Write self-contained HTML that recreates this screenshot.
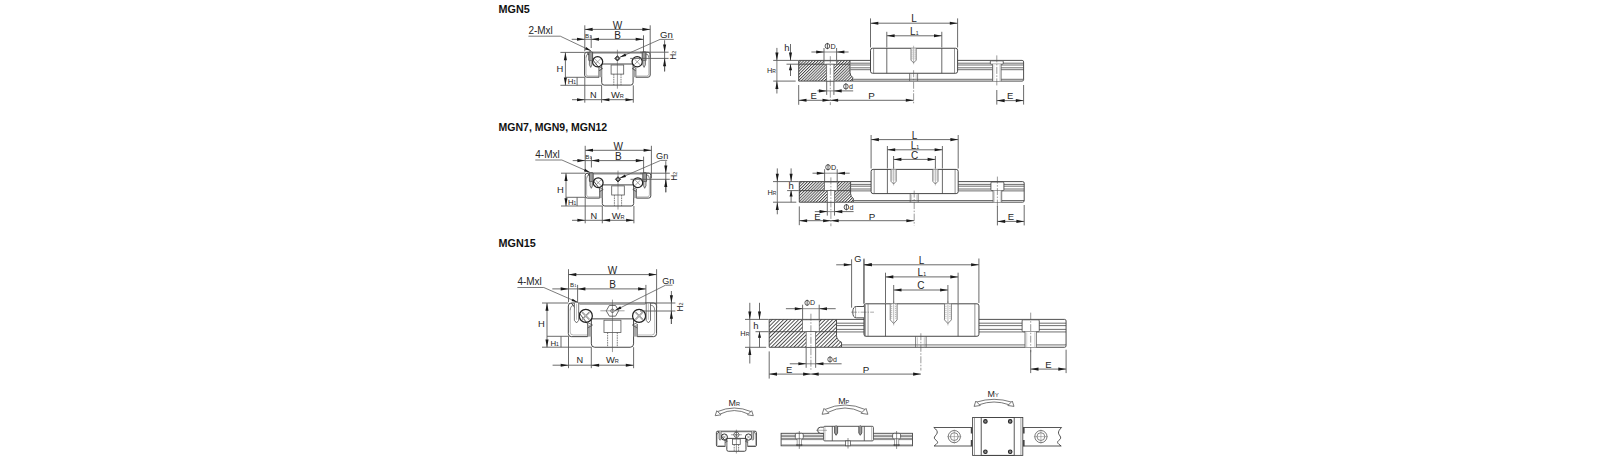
<!DOCTYPE html>
<html><head><meta charset="utf-8"><style>
html,body{margin:0;padding:0;background:#fff;}
body{width:1610px;height:461px;overflow:hidden;}
svg{display:block;font-family:"Liberation Sans",sans-serif;}
</style></head><body>
<svg width="1610" height="461" viewBox="0 0 1610 461">
<rect x="0" y="0" width="1610" height="461" fill="#fff"/>
<text x="498.60" y="12.90" font-size="10.8" text-anchor="start" fill="#111" font-weight="bold" >MGN5</text>
<text x="498.60" y="131.40" font-size="10.8" text-anchor="start" fill="#111" font-weight="bold" textLength="108.6" lengthAdjust="spacingAndGlyphs">MGN7, MGN9, MGN12</text>
<text x="498.60" y="246.60" font-size="10.8" text-anchor="start" fill="#111" font-weight="bold" >MGN15</text>
<path d="M586.8,52.2 L648.0,52.2 Q650.1999999999999,52.2 650.1999999999999,54.400000000000006 L650.1999999999999,75.0 Q650.1999999999999,77.2 648.0,77.2 L635.8,77.2 L635.8,67.8 M599.0,67.8 L599.0,77.2 L586.8,77.2 Q584.6,77.2 584.6,75.0 L584.6,54.400000000000006 Q584.6,52.2 586.8,52.2 Z" fill="none" stroke="#3c3c3c" stroke-width="0.95" />
<line x1="592.90" y1="53.20" x2="641.90" y2="53.20" stroke="#777" stroke-width="0.7"/>
<path d="M648.8,57.7 L648.8,73.80000000000001 Q648.8,76.0 646.6,76.0 L636.3,76.0 M598.5,76.0 L588.1999999999999,76.0 Q586.0,76.0 586.0,73.80000000000001 L586.0,57.7" fill="none" stroke="#888" stroke-width="0.6" />
<path d="M586.0,57.7 Q586.0,53.800000000000004 589.4,53.800000000000004" fill="none" stroke="#555" stroke-width="0.7" />
<path d="M648.8,57.7 Q648.8,53.800000000000004 645.4,53.800000000000004" fill="none" stroke="#555" stroke-width="0.7" />
<path d="M601.6999999999999,64.0 L601.6999999999999,82.6 Q601.6999999999999,85.1 604.1999999999999,85.1 L630.6,85.1 Q633.1,85.1 633.1,82.6 L633.1,64.0 Z" fill="none" stroke="#3c3c3c" stroke-width="0.95" />
<rect x="599.00" y="68.70" width="2.70" height="8.50" fill="#a8a8a8"/>
<polyline points="599.00,66.80 602.60,68.60 599.00,70.80" fill="none" stroke="#444" stroke-width="0.7"/>
<rect x="633.10" y="68.70" width="2.70" height="8.50" fill="#a8a8a8"/>
<polyline points="635.80,66.80 632.20,68.60 635.80,70.80" fill="none" stroke="#444" stroke-width="0.7"/>
<circle cx="597.60" cy="61.80" r="5.10" fill="none" stroke="#222" stroke-width="1.25"/>
<line x1="594.80" y1="59.00" x2="600.40" y2="64.61" stroke="#666" stroke-width="0.6"/>
<line x1="594.80" y1="64.61" x2="600.40" y2="59.00" stroke="#666" stroke-width="0.6"/>
<rect x="588.80" y="51.90" width="3.80" height="9.10" rx="0.80" fill="#9a9a9a" stroke="#333" stroke-width="0.8"/>
<path d="M589.40,61.00 L589.40,64.80 L590.70,67.40 L592.00,64.80 L592.00,61.00" fill="#ccc" stroke="#444" stroke-width="0.7"/>
<circle cx="637.20" cy="61.80" r="5.10" fill="none" stroke="#222" stroke-width="1.25"/>
<line x1="634.39" y1="59.00" x2="640.00" y2="64.61" stroke="#666" stroke-width="0.6"/>
<line x1="634.39" y1="64.61" x2="640.00" y2="59.00" stroke="#666" stroke-width="0.6"/>
<rect x="642.20" y="51.90" width="3.80" height="9.10" rx="0.80" fill="#9a9a9a" stroke="#333" stroke-width="0.8"/>
<path d="M642.80,61.00 L642.80,64.80 L644.10,67.40 L645.40,64.80 L645.40,61.00" fill="#ccc" stroke="#444" stroke-width="0.7"/>
<rect x="611.10" y="65.00" width="12.60" height="9.10" rx="0" fill="none" stroke="#555" stroke-width="0.8"/>
<line x1="613.80" y1="74.10" x2="613.80" y2="85.10" stroke="#555" stroke-width="0.75" stroke-dasharray="1.6,0.8"/>
<line x1="621.00" y1="74.10" x2="621.00" y2="85.10" stroke="#555" stroke-width="0.75" stroke-dasharray="1.6,0.8"/>
<line x1="617.40" y1="49.70" x2="617.40" y2="88.70" stroke="#555" stroke-width="0.6"/>
<polygon points="614.80,58.40 617.40,55.80 620.00,58.40 617.40,61.00" fill="#555" stroke="#222" stroke-width="0.9"/>
<circle cx="617.40" cy="58.40" r="0.80" fill="#ddd" stroke="none" stroke-width="0"/>
<path d="M587.4,173.1 L648.6,173.1 Q650.8,173.1 650.8,175.29999999999998 L650.8,195.9 Q650.8,198.1 648.6,198.1 L636.4,198.1 L636.4,188.7 M599.6,188.7 L599.6,198.1 L587.4,198.1 Q585.2,198.1 585.2,195.9 L585.2,175.29999999999998 Q585.2,173.1 587.4,173.1 Z" fill="none" stroke="#3c3c3c" stroke-width="0.95" />
<line x1="593.50" y1="174.10" x2="642.50" y2="174.10" stroke="#777" stroke-width="0.7"/>
<path d="M649.4,178.6 L649.4,194.7 Q649.4,196.9 647.2,196.9 L636.9,196.9 M599.1,196.9 L588.8,196.9 Q586.6,196.9 586.6,194.7 L586.6,178.6" fill="none" stroke="#888" stroke-width="0.6" />
<path d="M586.6,178.6 Q586.6,174.7 590.0,174.7" fill="none" stroke="#555" stroke-width="0.7" />
<path d="M649.4,178.6 Q649.4,174.7 646.0,174.7" fill="none" stroke="#555" stroke-width="0.7" />
<path d="M602.3,184.9 L602.3,203.5 Q602.3,206.0 604.8,206.0 L631.2,206.0 Q633.7,206.0 633.7,203.5 L633.7,184.9 Z" fill="none" stroke="#3c3c3c" stroke-width="0.95" />
<rect x="599.60" y="189.60" width="2.70" height="8.50" fill="#a8a8a8"/>
<polyline points="599.60,187.70 603.20,189.50 599.60,191.70" fill="none" stroke="#444" stroke-width="0.7"/>
<rect x="633.70" y="189.60" width="2.70" height="8.50" fill="#a8a8a8"/>
<polyline points="636.40,187.70 632.80,189.50 636.40,191.70" fill="none" stroke="#444" stroke-width="0.7"/>
<circle cx="598.20" cy="182.70" r="4.90" fill="none" stroke="#222" stroke-width="1.25"/>
<line x1="595.50" y1="180.00" x2="600.90" y2="185.39" stroke="#666" stroke-width="0.6"/>
<line x1="595.50" y1="185.39" x2="600.90" y2="180.00" stroke="#666" stroke-width="0.6"/>
<rect x="589.40" y="172.80" width="3.80" height="9.10" rx="0.80" fill="#9a9a9a" stroke="#333" stroke-width="0.8"/>
<path d="M590.00,181.90 L590.00,185.70 L591.30,188.30 L592.60,185.70 L592.60,181.90" fill="#ccc" stroke="#444" stroke-width="0.7"/>
<circle cx="637.80" cy="182.70" r="4.90" fill="none" stroke="#222" stroke-width="1.25"/>
<line x1="635.10" y1="180.00" x2="640.50" y2="185.39" stroke="#666" stroke-width="0.6"/>
<line x1="635.10" y1="185.39" x2="640.50" y2="180.00" stroke="#666" stroke-width="0.6"/>
<rect x="642.80" y="172.80" width="3.80" height="9.10" rx="0.80" fill="#9a9a9a" stroke="#333" stroke-width="0.8"/>
<path d="M643.40,181.90 L643.40,185.70 L644.70,188.30 L646.00,185.70 L646.00,181.90" fill="#ccc" stroke="#444" stroke-width="0.7"/>
<rect x="611.70" y="185.90" width="12.60" height="9.10" rx="0" fill="none" stroke="#555" stroke-width="0.8"/>
<line x1="614.40" y1="195.00" x2="614.40" y2="206.00" stroke="#555" stroke-width="0.75" stroke-dasharray="1.6,0.8"/>
<line x1="621.60" y1="195.00" x2="621.60" y2="206.00" stroke="#555" stroke-width="0.75" stroke-dasharray="1.6,0.8"/>
<line x1="618.00" y1="170.60" x2="618.00" y2="209.60" stroke="#555" stroke-width="0.6"/>
<polygon points="615.40,179.30 618.00,176.70 620.60,179.30 618.00,181.90" fill="#555" stroke="#222" stroke-width="0.9"/>
<circle cx="618.00" cy="179.30" r="0.80" fill="#ddd" stroke="none" stroke-width="0"/>
<path d="M571.293,303.0 L653.6070000000001,303.0 Q656.566,303.0 656.566,305.959 L656.566,333.666 Q656.566,336.625 653.6070000000001,336.625 L637.1980000000001,336.625 L637.1980000000001,323.98199999999997 M587.702,323.98199999999997 L587.702,336.625 L571.293,336.625 Q568.3340000000001,336.625 568.3340000000001,333.666 L568.3340000000001,305.959 Q568.3340000000001,303.0 571.293,303.0 Z" fill="none" stroke="#3c3c3c" stroke-width="0.95" />
<line x1="579.50" y1="304.35" x2="645.40" y2="304.35" stroke="#777" stroke-width="0.7"/>
<path d="M654.683,310.3975 L654.683,332.052 Q654.683,335.011 651.724,335.011 L637.8705,335.011 M587.0295000000001,335.011 L573.176,335.011 Q570.2170000000001,335.011 570.2170000000001,332.052 L570.2170000000001,310.3975" fill="none" stroke="#888" stroke-width="0.6" />
<path d="M570.2170000000001,310.3975 Q570.2170000000001,305.152 574.7900000000001,305.152" fill="none" stroke="#555" stroke-width="0.7" />
<path d="M654.683,310.3975 Q654.683,305.152 650.11,305.152" fill="none" stroke="#555" stroke-width="0.7" />
<path d="M591.3335000000001,318.871 L591.3335000000001,343.888 Q591.3335000000001,347.2505 594.696,347.2505 L630.2040000000001,347.2505 Q633.5665,347.2505 633.5665,343.888 L633.5665,318.871 Z" fill="none" stroke="#3c3c3c" stroke-width="0.95" />
<rect x="587.70" y="325.19" width="3.63" height="11.43" fill="#a8a8a8"/>
<polyline points="587.70,322.64 592.54,325.06 587.70,328.02" fill="none" stroke="#444" stroke-width="0.7"/>
<rect x="633.57" y="325.19" width="3.63" height="11.43" fill="#a8a8a8"/>
<polyline points="637.20,322.64 632.36,325.06 637.20,328.02" fill="none" stroke="#444" stroke-width="0.7"/>
<circle cx="585.82" cy="315.91" r="6.52" fill="none" stroke="#222" stroke-width="1.25"/>
<line x1="582.23" y1="312.32" x2="589.41" y2="319.50" stroke="#666" stroke-width="1.3"/>
<line x1="582.23" y1="319.50" x2="589.41" y2="312.32" stroke="#666" stroke-width="1.3"/>
<line x1="582.23" y1="312.32" x2="589.41" y2="319.50" stroke="#fff" stroke-width="0.5"/>
<line x1="582.23" y1="319.50" x2="589.41" y2="312.32" stroke="#fff" stroke-width="0.5"/>
<path d="M574.39,303.00 L574.39,320.35 L576.54,322.91 L578.69,320.35 L578.69,303.00" fill="#fff" stroke="#444" stroke-width="0.75"/>
<line x1="576.54" y1="303.67" x2="576.54" y2="319.81" stroke="#888" stroke-width="0.5"/>
<circle cx="639.08" cy="315.91" r="6.52" fill="none" stroke="#222" stroke-width="1.25"/>
<line x1="635.49" y1="312.32" x2="642.67" y2="319.50" stroke="#666" stroke-width="1.3"/>
<line x1="635.49" y1="319.50" x2="642.67" y2="312.32" stroke="#666" stroke-width="1.3"/>
<line x1="635.49" y1="312.32" x2="642.67" y2="319.50" stroke="#fff" stroke-width="0.5"/>
<line x1="635.49" y1="319.50" x2="642.67" y2="312.32" stroke="#fff" stroke-width="0.5"/>
<path d="M646.21,303.00 L646.21,320.35 L648.36,322.91 L650.51,320.35 L650.51,303.00" fill="#fff" stroke="#444" stroke-width="0.75"/>
<line x1="648.36" y1="303.67" x2="648.36" y2="319.81" stroke="#888" stroke-width="0.5"/>
<rect x="603.98" y="320.22" width="16.95" height="12.24" rx="0" fill="none" stroke="#555" stroke-width="0.8"/>
<line x1="607.61" y1="332.46" x2="607.61" y2="347.25" stroke="#555" stroke-width="0.75" stroke-dasharray="1.6,0.8"/>
<line x1="617.29" y1="332.46" x2="617.29" y2="347.25" stroke="#555" stroke-width="0.75" stroke-dasharray="1.6,0.8"/>
<line x1="612.45" y1="299.64" x2="612.45" y2="352.09" stroke="#555" stroke-width="0.6"/>
<polygon points="618.64,310.80 615.54,316.16 609.36,316.16 606.26,310.80 609.36,305.44 615.54,305.44" fill="none" stroke="#444" stroke-width="0.8"/>
<circle cx="612.45" cy="310.80" r="1.75" fill="none" stroke="#444" stroke-width="0.7"/>
<line x1="600.35" y1="310.80" x2="624.56" y2="310.80" stroke="#666" stroke-width="0.6"/>
<defs><pattern id="hp0" patternUnits="userSpaceOnUse" width="2.05" height="2.05" patternTransform="rotate(45)"><line x1="0.5" y1="0" x2="0.5" y2="2.05" stroke="#2a2a2a" stroke-width="0.8"/></pattern></defs>
<path d="M798.7,60.4 L850.0,60.4 L850.0,72.40599999999999 Q850.0,75.718 852.7,77.374 L852.7,81.1 L798.7,81.1 Z" fill="url(#hp0)" stroke="#3c3c3c" stroke-width="0.9"/>
<line x1="798.70" y1="64.20" x2="850.00" y2="64.20" stroke="#3c3c3c" stroke-width="0.85"/>
<rect x="824.00" y="60.85" width="12.60" height="3.35" fill="#fff" stroke="#555" stroke-width="0.7"/>
<rect x="826.70" y="64.20" width="7.20" height="16.90" fill="#fff" stroke="#555" stroke-width="0.7"/>
<line x1="830.30" y1="56.20" x2="830.30" y2="105.10" stroke="#555" stroke-width="0.6" stroke-dasharray="7,1.5,1.5,1.5"/>
<line x1="850.00" y1="60.40" x2="1022.10" y2="60.40" stroke="#3c3c3c" stroke-width="0.9"/>
<line x1="850.40" y1="63.20" x2="870.50" y2="63.20" stroke="#4a4a4a" stroke-width="0.8"/>
<line x1="957.60" y1="63.20" x2="1023.60" y2="63.20" stroke="#4a4a4a" stroke-width="0.8"/>
<line x1="850.40" y1="65.00" x2="870.50" y2="65.00" stroke="#4a4a4a" stroke-width="0.8"/>
<line x1="957.60" y1="65.00" x2="1023.60" y2="65.00" stroke="#4a4a4a" stroke-width="0.8"/>
<line x1="850.40" y1="67.80" x2="870.50" y2="67.80" stroke="#4a4a4a" stroke-width="0.8"/>
<line x1="957.60" y1="67.80" x2="1023.60" y2="67.80" stroke="#4a4a4a" stroke-width="0.8"/>
<line x1="850.40" y1="69.70" x2="870.50" y2="69.70" stroke="#4a4a4a" stroke-width="0.8"/>
<line x1="957.60" y1="69.70" x2="1023.60" y2="69.70" stroke="#4a4a4a" stroke-width="0.8"/>
<line x1="853.20" y1="79.30" x2="1023.60" y2="79.30" stroke="#4a4a4a" stroke-width="0.8"/>
<line x1="852.70" y1="81.10" x2="1022.10" y2="81.10" stroke="#3c3c3c" stroke-width="0.9"/>
<path d="M1022.1,60.4 Q1023.6,60.4 1023.6,61.9 L1023.6,79.6 Q1023.6,81.1 1022.1,81.1" fill="none" stroke="#3c3c3c" stroke-width="0.9" />
<rect x="990.30" y="60.80" width="13.00" height="3.40" rx="1" fill="#fff" stroke="#444" stroke-width="0.85"/>
<rect x="992.50" y="64.20" width="8.60" height="16.90" fill="#fff" stroke="none"/>
<line x1="992.50" y1="64.20" x2="992.50" y2="81.10" stroke="#555" stroke-width="0.8"/>
<line x1="993.80" y1="64.70" x2="993.80" y2="81.10" stroke="#aaa" stroke-width="0.5"/>
<line x1="1001.10" y1="64.20" x2="1001.10" y2="81.10" stroke="#555" stroke-width="0.8"/>
<line x1="999.80" y1="64.70" x2="999.80" y2="81.10" stroke="#aaa" stroke-width="0.5"/>
<line x1="996.80" y1="55.40" x2="996.80" y2="86.10" stroke="#555" stroke-width="0.6" stroke-dasharray="7,1.5,1.5,1.5"/>
<rect x="870.50" y="48.25" width="87.10" height="25.00" rx="2.0" fill="#fff" stroke="#3c3c3c" stroke-width="0.95"/>
<line x1="873.60" y1="48.25" x2="873.60" y2="73.25" stroke="#666" stroke-width="0.7"/>
<line x1="886.80" y1="48.25" x2="886.80" y2="73.25" stroke="#444" stroke-width="0.8"/>
<line x1="941.80" y1="48.25" x2="941.80" y2="73.25" stroke="#444" stroke-width="0.8"/>
<line x1="954.50" y1="48.25" x2="954.50" y2="73.25" stroke="#666" stroke-width="0.7"/>
<line x1="909.60" y1="73.25" x2="909.60" y2="81.10" stroke="#555" stroke-width="0.75"/>
<line x1="911.00" y1="74.25" x2="911.00" y2="81.10" stroke="#999" stroke-width="0.5"/>
<line x1="917.60" y1="73.25" x2="917.60" y2="81.10" stroke="#555" stroke-width="0.75"/>
<line x1="916.20" y1="74.25" x2="916.20" y2="81.10" stroke="#999" stroke-width="0.5"/>
<line x1="913.60" y1="70.25" x2="913.60" y2="104.30" stroke="#555" stroke-width="0.6" stroke-dasharray="7,1.5,1.5,1.5"/>
<path d="M911.0,48.25 L911.0,60.15 L913.6,62.849999999999994 L916.2,60.15 L916.2,48.25" fill="#fff" stroke="#555" stroke-width="0.75"/>
<line x1="912.10" y1="48.25" x2="912.10" y2="59.25" stroke="#777" stroke-width="0.55" stroke-dasharray="1.2,0.8"/>
<line x1="915.10" y1="48.25" x2="915.10" y2="59.25" stroke="#777" stroke-width="0.55" stroke-dasharray="1.2,0.8"/>
<line x1="913.60" y1="45.75" x2="913.60" y2="64.25" stroke="#777" stroke-width="0.5"/>
<defs><pattern id="hp1" patternUnits="userSpaceOnUse" width="2.05" height="2.05" patternTransform="rotate(45)"><line x1="0.5" y1="0" x2="0.5" y2="2.05" stroke="#2a2a2a" stroke-width="0.8"/></pattern></defs>
<path d="M799.3,181.6 L850.5999999999999,181.6 L850.5999999999999,193.548 Q850.5999999999999,196.844 853.3,198.492 L853.3,202.2 L799.3,202.2 Z" fill="url(#hp1)" stroke="#3c3c3c" stroke-width="0.9"/>
<line x1="799.30" y1="190.60" x2="850.60" y2="190.60" stroke="#3c3c3c" stroke-width="0.85"/>
<rect x="824.60" y="182.05" width="12.60" height="8.55" fill="#fff" stroke="#555" stroke-width="0.7"/>
<rect x="827.30" y="190.60" width="7.20" height="11.60" fill="#fff" stroke="#555" stroke-width="0.7"/>
<line x1="830.90" y1="177.40" x2="830.90" y2="226.20" stroke="#555" stroke-width="0.6" stroke-dasharray="7,1.5,1.5,1.5"/>
<line x1="850.60" y1="181.60" x2="1022.70" y2="181.60" stroke="#3c3c3c" stroke-width="0.9"/>
<line x1="851.00" y1="184.40" x2="871.10" y2="184.40" stroke="#4a4a4a" stroke-width="0.8"/>
<line x1="958.20" y1="184.40" x2="1024.20" y2="184.40" stroke="#4a4a4a" stroke-width="0.8"/>
<line x1="851.00" y1="186.20" x2="871.10" y2="186.20" stroke="#4a4a4a" stroke-width="0.8"/>
<line x1="958.20" y1="186.20" x2="1024.20" y2="186.20" stroke="#4a4a4a" stroke-width="0.8"/>
<line x1="851.00" y1="189.00" x2="871.10" y2="189.00" stroke="#4a4a4a" stroke-width="0.8"/>
<line x1="958.20" y1="189.00" x2="1024.20" y2="189.00" stroke="#4a4a4a" stroke-width="0.8"/>
<line x1="851.00" y1="190.90" x2="871.10" y2="190.90" stroke="#4a4a4a" stroke-width="0.8"/>
<line x1="958.20" y1="190.90" x2="1024.20" y2="190.90" stroke="#4a4a4a" stroke-width="0.8"/>
<line x1="853.80" y1="200.50" x2="1024.20" y2="200.50" stroke="#4a4a4a" stroke-width="0.8"/>
<line x1="853.30" y1="202.20" x2="1022.70" y2="202.20" stroke="#3c3c3c" stroke-width="0.9"/>
<path d="M1022.7,181.6 Q1024.2,181.6 1024.2,183.1 L1024.2,200.7 Q1024.2,202.2 1022.7,202.2" fill="none" stroke="#3c3c3c" stroke-width="0.9" />
<rect x="990.90" y="182.00" width="13.00" height="8.60" rx="1" fill="#fff" stroke="#444" stroke-width="0.85"/>
<rect x="993.10" y="190.60" width="8.60" height="11.60" fill="#fff" stroke="none"/>
<line x1="993.10" y1="190.60" x2="993.10" y2="202.20" stroke="#555" stroke-width="0.8"/>
<line x1="994.40" y1="191.10" x2="994.40" y2="202.20" stroke="#aaa" stroke-width="0.5"/>
<line x1="1001.70" y1="190.60" x2="1001.70" y2="202.20" stroke="#555" stroke-width="0.8"/>
<line x1="1000.40" y1="191.10" x2="1000.40" y2="202.20" stroke="#aaa" stroke-width="0.5"/>
<line x1="997.40" y1="176.60" x2="997.40" y2="207.20" stroke="#555" stroke-width="0.6" stroke-dasharray="7,1.5,1.5,1.5"/>
<rect x="871.10" y="169.40" width="87.10" height="24.20" rx="2.0" fill="#fff" stroke="#3c3c3c" stroke-width="0.95"/>
<line x1="874.20" y1="169.40" x2="874.20" y2="193.60" stroke="#666" stroke-width="0.7"/>
<line x1="887.40" y1="169.40" x2="887.40" y2="193.60" stroke="#444" stroke-width="0.8"/>
<line x1="942.40" y1="169.40" x2="942.40" y2="193.60" stroke="#444" stroke-width="0.8"/>
<line x1="955.10" y1="169.40" x2="955.10" y2="193.60" stroke="#666" stroke-width="0.7"/>
<line x1="910.20" y1="193.60" x2="910.20" y2="202.20" stroke="#555" stroke-width="0.75"/>
<line x1="911.60" y1="194.60" x2="911.60" y2="202.20" stroke="#999" stroke-width="0.5"/>
<line x1="918.20" y1="193.60" x2="918.20" y2="202.20" stroke="#555" stroke-width="0.75"/>
<line x1="916.80" y1="194.60" x2="916.80" y2="202.20" stroke="#999" stroke-width="0.5"/>
<line x1="914.20" y1="190.60" x2="914.20" y2="225.40" stroke="#555" stroke-width="0.6" stroke-dasharray="7,1.5,1.5,1.5"/>
<path d="M891.0,169.4 L891.0,181.29999999999998 L893.5999999999999,184.0 L896.1999999999999,181.29999999999998 L896.1999999999999,169.4" fill="#fff" stroke="#555" stroke-width="0.75"/>
<line x1="892.10" y1="169.40" x2="892.10" y2="180.40" stroke="#777" stroke-width="0.55" stroke-dasharray="1.2,0.8"/>
<line x1="895.10" y1="169.40" x2="895.10" y2="180.40" stroke="#777" stroke-width="0.55" stroke-dasharray="1.2,0.8"/>
<line x1="893.60" y1="166.90" x2="893.60" y2="185.40" stroke="#777" stroke-width="0.5"/>
<path d="M932.8,169.4 L932.8,181.29999999999998 L935.4,184.0 L938.0,181.29999999999998 L938.0,169.4" fill="#fff" stroke="#555" stroke-width="0.75"/>
<line x1="933.90" y1="169.40" x2="933.90" y2="180.40" stroke="#777" stroke-width="0.55" stroke-dasharray="1.2,0.8"/>
<line x1="936.90" y1="169.40" x2="936.90" y2="180.40" stroke="#777" stroke-width="0.55" stroke-dasharray="1.2,0.8"/>
<line x1="935.40" y1="166.90" x2="935.40" y2="185.40" stroke="#777" stroke-width="0.5"/>
<defs><pattern id="hp2" patternUnits="userSpaceOnUse" width="2.67" height="2.67" patternTransform="rotate(45)"><line x1="0.5" y1="0" x2="0.5" y2="2.67" stroke="#2a2a2a" stroke-width="0.8"/></pattern></defs>
<path d="M769.2,319.4 L836.5200000000001,319.4 L836.5200000000001,335.56895 Q836.5200000000001,340.02934999999997 841.5360000000001,342.25955 L841.5360000000001,347.2775 L769.2,347.2775 Z" fill="url(#hp2)" stroke="#3c3c3c" stroke-width="0.9"/>
<line x1="769.20" y1="331.69" x2="836.52" y2="331.69" stroke="#3c3c3c" stroke-width="0.85"/>
<rect x="802.60" y="319.85" width="16.63" height="11.84" fill="#fff" stroke="#555" stroke-width="0.7"/>
<rect x="806.16" y="331.69" width="9.50" height="15.59" fill="#fff" stroke="#555" stroke-width="0.7"/>
<line x1="810.91" y1="313.73" x2="810.91" y2="371.28" stroke="#555" stroke-width="0.6" stroke-dasharray="7,1.5,1.5,1.5"/>
<line x1="836.52" y1="319.40" x2="1064.57" y2="319.40" stroke="#3c3c3c" stroke-width="0.9"/>
<line x1="836.92" y1="323.18" x2="863.98" y2="323.18" stroke="#4a4a4a" stroke-width="0.8"/>
<line x1="978.95" y1="323.18" x2="1066.07" y2="323.18" stroke="#4a4a4a" stroke-width="0.8"/>
<line x1="836.92" y1="325.61" x2="863.98" y2="325.61" stroke="#4a4a4a" stroke-width="0.8"/>
<line x1="978.95" y1="325.61" x2="1066.07" y2="325.61" stroke="#4a4a4a" stroke-width="0.8"/>
<line x1="836.92" y1="329.39" x2="863.98" y2="329.39" stroke="#4a4a4a" stroke-width="0.8"/>
<line x1="978.95" y1="329.39" x2="1066.07" y2="329.39" stroke="#4a4a4a" stroke-width="0.8"/>
<line x1="836.92" y1="331.95" x2="863.98" y2="331.95" stroke="#4a4a4a" stroke-width="0.8"/>
<line x1="978.95" y1="331.95" x2="1066.07" y2="331.95" stroke="#4a4a4a" stroke-width="0.8"/>
<line x1="842.04" y1="344.91" x2="1066.07" y2="344.91" stroke="#4a4a4a" stroke-width="0.8"/>
<line x1="841.54" y1="347.28" x2="1064.57" y2="347.28" stroke="#3c3c3c" stroke-width="0.9"/>
<path d="M1064.568,319.4 Q1066.068,319.4 1066.068,320.9 L1066.068,345.7775 Q1066.068,347.2775 1064.568,347.2775" fill="none" stroke="#3c3c3c" stroke-width="0.9" />
<rect x="1022.11" y="319.80" width="17.16" height="11.88" rx="1" fill="#fff" stroke="#444" stroke-width="0.85"/>
<rect x="1025.02" y="331.69" width="11.35" height="15.59" fill="#fff" stroke="none"/>
<line x1="1025.02" y1="331.69" x2="1025.02" y2="347.28" stroke="#555" stroke-width="0.8"/>
<line x1="1026.73" y1="332.19" x2="1026.73" y2="347.28" stroke="#aaa" stroke-width="0.5"/>
<line x1="1036.37" y1="331.69" x2="1036.37" y2="347.28" stroke="#555" stroke-width="0.8"/>
<line x1="1034.65" y1="332.19" x2="1034.65" y2="347.28" stroke="#aaa" stroke-width="0.5"/>
<line x1="1030.69" y1="312.65" x2="1030.69" y2="352.28" stroke="#555" stroke-width="0.6" stroke-dasharray="7,1.5,1.5,1.5"/>
<rect x="863.98" y="303.81" width="114.97" height="32.47" rx="2.0" fill="#fff" stroke="#3c3c3c" stroke-width="0.95"/>
<line x1="868.07" y1="303.81" x2="868.07" y2="336.27" stroke="#666" stroke-width="0.7"/>
<line x1="885.49" y1="303.81" x2="885.49" y2="336.27" stroke="#444" stroke-width="0.8"/>
<line x1="958.09" y1="303.81" x2="958.09" y2="336.27" stroke="#444" stroke-width="0.8"/>
<line x1="974.86" y1="303.81" x2="974.86" y2="336.27" stroke="#666" stroke-width="0.7"/>
<line x1="915.59" y1="336.27" x2="915.59" y2="347.28" stroke="#555" stroke-width="0.75"/>
<line x1="917.44" y1="337.27" x2="917.44" y2="347.28" stroke="#999" stroke-width="0.5"/>
<line x1="926.15" y1="336.27" x2="926.15" y2="347.28" stroke="#555" stroke-width="0.75"/>
<line x1="924.30" y1="337.27" x2="924.30" y2="347.28" stroke="#999" stroke-width="0.5"/>
<line x1="920.87" y1="333.27" x2="920.87" y2="370.48" stroke="#555" stroke-width="0.6" stroke-dasharray="7,1.5,1.5,1.5"/>
<path d="M890.244,303.8075 L890.244,319.8725 L893.676,323.5175 L897.1080000000001,319.8725 L897.1080000000001,303.8075" fill="#fff" stroke="#555" stroke-width="0.75"/>
<line x1="891.70" y1="303.81" x2="891.70" y2="318.66" stroke="#777" stroke-width="0.55" stroke-dasharray="1.2,0.8"/>
<line x1="895.66" y1="303.81" x2="895.66" y2="318.66" stroke="#777" stroke-width="0.55" stroke-dasharray="1.2,0.8"/>
<line x1="893.68" y1="301.31" x2="893.68" y2="325.41" stroke="#777" stroke-width="0.5"/>
<path d="M944.4960000000001,303.8075 L944.4960000000001,319.8725 L947.9280000000001,323.5175 L951.36,319.8725 L951.36,303.8075" fill="#fff" stroke="#555" stroke-width="0.75"/>
<line x1="945.95" y1="303.81" x2="945.95" y2="318.66" stroke="#777" stroke-width="0.55" stroke-dasharray="1.2,0.8"/>
<line x1="949.91" y1="303.81" x2="949.91" y2="318.66" stroke="#777" stroke-width="0.55" stroke-dasharray="1.2,0.8"/>
<line x1="947.93" y1="301.31" x2="947.93" y2="325.41" stroke="#777" stroke-width="0.5"/>
<path d="M863.976,306.5075 L856.376,306.5075 Q852.776,306.5075 852.776,312.17749999999995 Q852.776,317.84749999999997 856.376,317.84749999999997 L863.976,317.84749999999997" fill="#fff" stroke="#3c3c3c" stroke-width="0.9"/>
<line x1="855.58" y1="306.51" x2="855.58" y2="317.85" stroke="#666" stroke-width="0.6"/>
<line x1="864.88" y1="304.81" x2="864.88" y2="336.27" stroke="#666" stroke-width="1.4"/>
<line x1="850.98" y1="312.18" x2="873.98" y2="312.18" stroke="#555" stroke-width="0.5" stroke-dasharray="6,1.2,1.2,1.2"/>
<line x1="870.50" y1="18.40" x2="870.50" y2="47.50" stroke="#5a5a5a" stroke-width="0.9"/>
<line x1="957.60" y1="18.40" x2="957.60" y2="47.50" stroke="#5a5a5a" stroke-width="0.9"/>
<line x1="870.50" y1="23.20" x2="957.60" y2="23.20" stroke="#5a5a5a" stroke-width="0.9"/>
<polygon points="870.50,23.20 878.30,21.65 878.30,24.75" fill="#1a1a1a"/>
<polygon points="957.60,23.20 949.80,24.75 949.80,21.65" fill="#1a1a1a"/>
<text x="914.05" y="22.30" font-size="10" text-anchor="middle" fill="#262626" font-weight="normal" >L</text>
<line x1="886.80" y1="31.80" x2="886.80" y2="47.50" stroke="#5a5a5a" stroke-width="0.9"/>
<line x1="941.80" y1="31.80" x2="941.80" y2="47.50" stroke="#5a5a5a" stroke-width="0.9"/>
<line x1="886.80" y1="35.80" x2="941.80" y2="35.80" stroke="#5a5a5a" stroke-width="0.9"/>
<polygon points="886.80,35.80 894.60,34.25 894.60,37.35" fill="#1a1a1a"/>
<polygon points="941.80,35.80 934.00,37.35 934.00,34.25" fill="#1a1a1a"/>
<text x="914.30" y="34.90" font-size="10" text-anchor="middle" fill="#262626">L<tspan font-size="5.2">1</tspan></text>
<line x1="773.20" y1="60.40" x2="798.20" y2="60.40" stroke="#5a5a5a" stroke-width="0.9"/>
<line x1="786.50" y1="64.20" x2="798.20" y2="64.20" stroke="#5a5a5a" stroke-width="0.9"/>
<line x1="773.20" y1="81.10" x2="795.70" y2="81.10" stroke="#5a5a5a" stroke-width="0.9"/>
<line x1="776.90" y1="47.90" x2="776.90" y2="60.40" stroke="#5a5a5a" stroke-width="0.9"/>
<polygon points="776.90,60.40 775.35,52.60 778.45,52.60" fill="#1a1a1a"/>
<line x1="776.90" y1="81.10" x2="776.90" y2="93.50" stroke="#5a5a5a" stroke-width="0.9"/>
<polygon points="776.90,81.10 778.45,88.90 775.35,88.90" fill="#1a1a1a"/>
<line x1="776.90" y1="60.40" x2="776.90" y2="81.10" stroke="#5a5a5a" stroke-width="0.8"/>
<line x1="790.50" y1="44.00" x2="790.50" y2="60.40" stroke="#5a5a5a" stroke-width="0.9"/>
<polygon points="790.50,60.40 788.95,52.60 792.05,52.60" fill="#1a1a1a"/>
<line x1="790.50" y1="64.20" x2="790.50" y2="76.00" stroke="#5a5a5a" stroke-width="0.9"/>
<polygon points="790.50,64.20 792.05,70.20 788.95,70.20" fill="#1a1a1a"/>
<text x="771.50" y="73.20" font-size="7.4" text-anchor="middle" fill="#262626">H<tspan font-size="5">R</tspan></text>
<text x="787.00" y="50.50" font-size="9.5" text-anchor="middle" fill="#262626" font-weight="normal" >h</text>
<line x1="824.00" y1="48.00" x2="824.00" y2="60.40" stroke="#5a5a5a" stroke-width="0.9"/>
<line x1="836.60" y1="48.00" x2="836.60" y2="60.40" stroke="#5a5a5a" stroke-width="0.9"/>
<line x1="811.40" y1="52.00" x2="824.00" y2="52.00" stroke="#5a5a5a" stroke-width="0.9"/>
<polygon points="824.00,52.00 816.20,53.55 816.20,50.45" fill="#1a1a1a"/>
<line x1="836.60" y1="52.00" x2="848.60" y2="52.00" stroke="#5a5a5a" stroke-width="0.9"/>
<polygon points="836.60,52.00 844.40,50.45 844.40,53.55" fill="#1a1a1a"/>
<line x1="824.00" y1="52.00" x2="836.60" y2="52.00" stroke="#5a5a5a" stroke-width="0.7"/>
<ellipse cx="827.40" cy="46.05" rx="2.30" ry="2.55" fill="none" stroke="#262626" stroke-width="0.75"/>
<line x1="827.40" y1="42.90" x2="827.40" y2="49.10" stroke="#262626" stroke-width="0.75"/>
<text x="830.40" y="48.60" font-size="7.2" fill="#262626">D</text>
<line x1="826.70" y1="81.10" x2="826.70" y2="94.90" stroke="#5a5a5a" stroke-width="0.9"/>
<line x1="833.90" y1="81.10" x2="833.90" y2="94.90" stroke="#5a5a5a" stroke-width="0.9"/>
<line x1="817.40" y1="90.90" x2="826.70" y2="90.90" stroke="#5a5a5a" stroke-width="0.9"/>
<polygon points="826.70,90.90 818.90,92.45 818.90,89.35" fill="#1a1a1a"/>
<line x1="833.90" y1="90.90" x2="853.20" y2="90.90" stroke="#5a5a5a" stroke-width="0.9"/>
<polygon points="833.90,90.90 841.70,89.35 841.70,92.45" fill="#1a1a1a"/>
<line x1="826.70" y1="90.90" x2="833.90" y2="90.90" stroke="#5a5a5a" stroke-width="0.7"/>
<ellipse cx="845.90" cy="86.45" rx="2.30" ry="2.55" fill="none" stroke="#262626" stroke-width="0.75"/>
<line x1="845.90" y1="83.30" x2="845.90" y2="89.50" stroke="#262626" stroke-width="0.75"/>
<text x="848.90" y="89.00" font-size="7.2" fill="#262626">d</text>
<line x1="798.70" y1="85.00" x2="798.70" y2="104.80" stroke="#5a5a5a" stroke-width="0.9"/>
<line x1="798.70" y1="100.30" x2="913.60" y2="100.30" stroke="#5a5a5a" stroke-width="0.9"/>
<polygon points="798.70,100.30 806.50,98.75 806.50,101.85" fill="#1a1a1a"/>
<polygon points="830.30,100.30 822.50,101.85 822.50,98.75" fill="#1a1a1a"/>
<polygon points="830.30,100.30 838.10,98.75 838.10,101.85" fill="#1a1a1a"/>
<polygon points="913.60,100.30 905.80,101.85 905.80,98.75" fill="#1a1a1a"/>
<text x="813.60" y="99.30" font-size="9.5" text-anchor="middle" fill="#262626" font-weight="normal" >E</text>
<text x="871.40" y="99.30" font-size="9.8" text-anchor="middle" fill="#262626" font-weight="normal" >P</text>
<line x1="996.80" y1="90.00" x2="996.80" y2="104.60" stroke="#5a5a5a" stroke-width="0.9"/>
<line x1="1023.60" y1="85.00" x2="1023.60" y2="104.60" stroke="#5a5a5a" stroke-width="0.9"/>
<line x1="996.80" y1="100.60" x2="1023.60" y2="100.60" stroke="#5a5a5a" stroke-width="0.9"/>
<polygon points="996.80,100.60 1004.60,99.05 1004.60,102.15" fill="#1a1a1a"/>
<polygon points="1023.60,100.60 1015.80,102.15 1015.80,99.05" fill="#1a1a1a"/>
<text x="1010.20" y="99.40" font-size="9.5" text-anchor="middle" fill="#262626" font-weight="normal" >E</text>
<line x1="871.10" y1="135.00" x2="871.10" y2="168.50" stroke="#5a5a5a" stroke-width="0.9"/>
<line x1="958.20" y1="135.00" x2="958.20" y2="168.50" stroke="#5a5a5a" stroke-width="0.9"/>
<line x1="871.10" y1="139.60" x2="958.20" y2="139.60" stroke="#5a5a5a" stroke-width="0.9"/>
<polygon points="871.10,139.60 878.90,138.05 878.90,141.15" fill="#1a1a1a"/>
<polygon points="958.20,139.60 950.40,141.15 950.40,138.05" fill="#1a1a1a"/>
<text x="914.65" y="138.70" font-size="10" text-anchor="middle" fill="#262626" font-weight="normal" >L</text>
<line x1="887.40" y1="146.00" x2="887.40" y2="168.50" stroke="#5a5a5a" stroke-width="0.9"/>
<line x1="942.40" y1="146.00" x2="942.40" y2="168.50" stroke="#5a5a5a" stroke-width="0.9"/>
<line x1="887.40" y1="149.80" x2="942.40" y2="149.80" stroke="#5a5a5a" stroke-width="0.9"/>
<polygon points="887.40,149.80 895.20,148.25 895.20,151.35" fill="#1a1a1a"/>
<polygon points="942.40,149.80 934.60,151.35 934.60,148.25" fill="#1a1a1a"/>
<text x="914.90" y="148.90" font-size="10" text-anchor="middle" fill="#262626">L<tspan font-size="5.2">1</tspan></text>
<line x1="893.60" y1="156.00" x2="893.60" y2="168.50" stroke="#5a5a5a" stroke-width="0.9"/>
<line x1="935.40" y1="156.00" x2="935.40" y2="168.50" stroke="#5a5a5a" stroke-width="0.9"/>
<line x1="893.60" y1="159.40" x2="935.40" y2="159.40" stroke="#5a5a5a" stroke-width="0.9"/>
<polygon points="893.60,159.40 901.40,157.85 901.40,160.95" fill="#1a1a1a"/>
<polygon points="935.40,159.40 927.60,160.95 927.60,157.85" fill="#1a1a1a"/>
<text x="914.50" y="158.50" font-size="10" text-anchor="middle" fill="#262626" font-weight="normal" >C</text>
<line x1="773.00" y1="181.60" x2="798.80" y2="181.60" stroke="#5a5a5a" stroke-width="0.9"/>
<line x1="787.10" y1="190.60" x2="798.80" y2="190.60" stroke="#5a5a5a" stroke-width="0.9"/>
<line x1="773.00" y1="202.20" x2="796.30" y2="202.20" stroke="#5a5a5a" stroke-width="0.9"/>
<line x1="777.30" y1="168.40" x2="777.30" y2="181.60" stroke="#5a5a5a" stroke-width="0.9"/>
<polygon points="777.30,181.60 775.75,173.80 778.85,173.80" fill="#1a1a1a"/>
<line x1="777.30" y1="202.20" x2="777.30" y2="214.30" stroke="#5a5a5a" stroke-width="0.9"/>
<polygon points="777.30,202.20 778.85,210.00 775.75,210.00" fill="#1a1a1a"/>
<line x1="777.30" y1="181.60" x2="777.30" y2="202.20" stroke="#5a5a5a" stroke-width="0.8"/>
<line x1="791.10" y1="168.40" x2="791.10" y2="181.60" stroke="#5a5a5a" stroke-width="0.9"/>
<polygon points="791.10,181.60 789.55,173.80 792.65,173.80" fill="#1a1a1a"/>
<line x1="791.10" y1="190.60" x2="791.10" y2="202.30" stroke="#5a5a5a" stroke-width="0.9"/>
<polygon points="791.10,190.60 792.65,196.60 789.55,196.60" fill="#1a1a1a"/>
<text x="772.00" y="194.60" font-size="7.4" text-anchor="middle" fill="#262626">H<tspan font-size="5">R</tspan></text>
<text x="791.10" y="189.00" font-size="9.5" text-anchor="middle" fill="#262626" font-weight="normal" >h</text>
<line x1="824.60" y1="169.20" x2="824.60" y2="181.60" stroke="#5a5a5a" stroke-width="0.9"/>
<line x1="837.20" y1="169.20" x2="837.20" y2="181.60" stroke="#5a5a5a" stroke-width="0.9"/>
<line x1="812.50" y1="173.20" x2="824.60" y2="173.20" stroke="#5a5a5a" stroke-width="0.9"/>
<polygon points="824.60,173.20 816.80,174.75 816.80,171.65" fill="#1a1a1a"/>
<line x1="837.20" y1="173.20" x2="849.70" y2="173.20" stroke="#5a5a5a" stroke-width="0.9"/>
<polygon points="837.20,173.20 845.00,171.65 845.00,174.75" fill="#1a1a1a"/>
<line x1="824.60" y1="173.20" x2="837.20" y2="173.20" stroke="#5a5a5a" stroke-width="0.7"/>
<ellipse cx="828.00" cy="167.25" rx="2.30" ry="2.55" fill="none" stroke="#262626" stroke-width="0.75"/>
<line x1="828.00" y1="164.10" x2="828.00" y2="170.30" stroke="#262626" stroke-width="0.75"/>
<text x="831.00" y="169.80" font-size="7.2" fill="#262626">D</text>
<line x1="827.30" y1="202.20" x2="827.30" y2="215.60" stroke="#5a5a5a" stroke-width="0.9"/>
<line x1="834.50" y1="202.20" x2="834.50" y2="215.60" stroke="#5a5a5a" stroke-width="0.9"/>
<line x1="814.80" y1="211.60" x2="827.30" y2="211.60" stroke="#5a5a5a" stroke-width="0.9"/>
<polygon points="827.30,211.60 819.50,213.15 819.50,210.05" fill="#1a1a1a"/>
<line x1="834.50" y1="211.60" x2="853.60" y2="211.60" stroke="#5a5a5a" stroke-width="0.9"/>
<polygon points="834.50,211.60 842.30,210.05 842.30,213.15" fill="#1a1a1a"/>
<line x1="827.30" y1="211.60" x2="834.50" y2="211.60" stroke="#5a5a5a" stroke-width="0.7"/>
<ellipse cx="846.40" cy="207.15" rx="2.30" ry="2.55" fill="none" stroke="#262626" stroke-width="0.75"/>
<line x1="846.40" y1="204.00" x2="846.40" y2="210.20" stroke="#262626" stroke-width="0.75"/>
<text x="849.40" y="209.70" font-size="7.2" fill="#262626">d</text>
<line x1="799.30" y1="206.40" x2="799.30" y2="225.20" stroke="#5a5a5a" stroke-width="0.9"/>
<line x1="799.30" y1="220.70" x2="914.20" y2="220.70" stroke="#5a5a5a" stroke-width="0.9"/>
<polygon points="799.30,220.70 807.10,219.15 807.10,222.25" fill="#1a1a1a"/>
<polygon points="830.90,220.70 823.10,222.25 823.10,219.15" fill="#1a1a1a"/>
<polygon points="830.90,220.70 838.70,219.15 838.70,222.25" fill="#1a1a1a"/>
<polygon points="914.20,220.70 906.40,222.25 906.40,219.15" fill="#1a1a1a"/>
<text x="817.50" y="219.70" font-size="9.5" text-anchor="middle" fill="#262626" font-weight="normal" >E</text>
<text x="872.00" y="219.70" font-size="9.8" text-anchor="middle" fill="#262626" font-weight="normal" >P</text>
<line x1="997.40" y1="206.00" x2="997.40" y2="225.40" stroke="#5a5a5a" stroke-width="0.9"/>
<line x1="1024.20" y1="205.00" x2="1024.20" y2="225.40" stroke="#5a5a5a" stroke-width="0.9"/>
<line x1="997.40" y1="221.40" x2="1024.20" y2="221.40" stroke="#5a5a5a" stroke-width="0.9"/>
<polygon points="997.40,221.40 1005.20,219.85 1005.20,222.95" fill="#1a1a1a"/>
<polygon points="1024.20,221.40 1016.40,222.95 1016.40,219.85" fill="#1a1a1a"/>
<text x="1010.80" y="220.20" font-size="9.5" text-anchor="middle" fill="#262626" font-weight="normal" >E</text>
<line x1="864.00" y1="258.50" x2="864.00" y2="303.00" stroke="#5a5a5a" stroke-width="0.9"/>
<line x1="978.90" y1="258.50" x2="978.90" y2="303.00" stroke="#5a5a5a" stroke-width="0.9"/>
<line x1="864.00" y1="264.80" x2="978.90" y2="264.80" stroke="#5a5a5a" stroke-width="0.9"/>
<polygon points="864.00,264.80 871.80,263.25 871.80,266.35" fill="#1a1a1a"/>
<polygon points="978.90,264.80 971.10,266.35 971.10,263.25" fill="#1a1a1a"/>
<text x="921.45" y="263.90" font-size="10" text-anchor="middle" fill="#262626" font-weight="normal" >L</text>
<line x1="885.50" y1="272.70" x2="885.50" y2="303.00" stroke="#5a5a5a" stroke-width="0.9"/>
<line x1="958.10" y1="272.70" x2="958.10" y2="303.00" stroke="#5a5a5a" stroke-width="0.9"/>
<line x1="885.50" y1="276.90" x2="958.10" y2="276.90" stroke="#5a5a5a" stroke-width="0.9"/>
<polygon points="885.50,276.90 893.30,275.35 893.30,278.45" fill="#1a1a1a"/>
<polygon points="958.10,276.90 950.30,278.45 950.30,275.35" fill="#1a1a1a"/>
<text x="921.80" y="276.00" font-size="10" text-anchor="middle" fill="#262626">L<tspan font-size="5.2">1</tspan></text>
<line x1="893.70" y1="285.00" x2="893.70" y2="303.00" stroke="#5a5a5a" stroke-width="0.9"/>
<line x1="947.90" y1="285.00" x2="947.90" y2="303.00" stroke="#5a5a5a" stroke-width="0.9"/>
<line x1="893.70" y1="290.00" x2="947.90" y2="290.00" stroke="#5a5a5a" stroke-width="0.9"/>
<polygon points="893.70,290.00 901.50,288.45 901.50,291.55" fill="#1a1a1a"/>
<polygon points="947.90,290.00 940.10,291.55 940.10,288.45" fill="#1a1a1a"/>
<text x="920.80" y="289.10" font-size="10" text-anchor="middle" fill="#262626" font-weight="normal" >C</text>
<line x1="745.00" y1="319.40" x2="768.70" y2="319.40" stroke="#5a5a5a" stroke-width="0.9"/>
<line x1="755.50" y1="331.70" x2="768.70" y2="331.70" stroke="#5a5a5a" stroke-width="0.9"/>
<line x1="745.00" y1="347.30" x2="766.20" y2="347.30" stroke="#5a5a5a" stroke-width="0.9"/>
<line x1="749.80" y1="302.80" x2="749.80" y2="319.40" stroke="#5a5a5a" stroke-width="0.9"/>
<polygon points="749.80,319.40 748.25,311.60 751.35,311.60" fill="#1a1a1a"/>
<line x1="749.80" y1="347.30" x2="749.80" y2="363.50" stroke="#5a5a5a" stroke-width="0.9"/>
<polygon points="749.80,347.30 751.35,355.10 748.25,355.10" fill="#1a1a1a"/>
<line x1="749.80" y1="319.40" x2="749.80" y2="347.30" stroke="#5a5a5a" stroke-width="0.8"/>
<line x1="759.50" y1="302.80" x2="759.50" y2="319.40" stroke="#5a5a5a" stroke-width="0.9"/>
<polygon points="759.50,319.40 757.95,311.60 761.05,311.60" fill="#1a1a1a"/>
<line x1="759.50" y1="331.70" x2="759.50" y2="347.30" stroke="#5a5a5a" stroke-width="0.9"/>
<polygon points="759.50,331.70 761.05,337.70 757.95,337.70" fill="#1a1a1a"/>
<text x="744.80" y="335.80" font-size="7.4" text-anchor="middle" fill="#262626">H<tspan font-size="5">R</tspan></text>
<text x="756.00" y="328.60" font-size="9.5" text-anchor="middle" fill="#262626" font-weight="normal" >h</text>
<line x1="802.60" y1="304.70" x2="802.60" y2="319.40" stroke="#5a5a5a" stroke-width="0.9"/>
<line x1="819.20" y1="304.70" x2="819.20" y2="319.40" stroke="#5a5a5a" stroke-width="0.9"/>
<line x1="785.90" y1="308.70" x2="802.60" y2="308.70" stroke="#5a5a5a" stroke-width="0.9"/>
<polygon points="802.60,308.70 794.80,310.25 794.80,307.15" fill="#1a1a1a"/>
<line x1="819.20" y1="308.70" x2="835.70" y2="308.70" stroke="#5a5a5a" stroke-width="0.9"/>
<polygon points="819.20,308.70 827.00,307.15 827.00,310.25" fill="#1a1a1a"/>
<line x1="802.60" y1="308.70" x2="819.20" y2="308.70" stroke="#5a5a5a" stroke-width="0.7"/>
<ellipse cx="807.14" cy="302.82" rx="2.24" ry="2.48" fill="none" stroke="#262626" stroke-width="0.73"/>
<line x1="807.14" y1="299.76" x2="807.14" y2="305.79" stroke="#262626" stroke-width="0.7291666666666666"/>
<text x="810.07" y="305.30" font-size="7.0" fill="#262626">D</text>
<line x1="806.15" y1="347.30" x2="806.15" y2="367.80" stroke="#5a5a5a" stroke-width="0.9"/>
<line x1="815.65" y1="347.30" x2="815.65" y2="367.80" stroke="#5a5a5a" stroke-width="0.9"/>
<line x1="789.80" y1="363.80" x2="806.15" y2="363.80" stroke="#5a5a5a" stroke-width="0.9"/>
<polygon points="806.15,363.80 798.35,365.35 798.35,362.25" fill="#1a1a1a"/>
<line x1="815.65" y1="363.80" x2="841.60" y2="363.80" stroke="#5a5a5a" stroke-width="0.9"/>
<polygon points="815.65,363.80 823.45,362.25 823.45,365.35" fill="#1a1a1a"/>
<line x1="806.15" y1="363.80" x2="815.65" y2="363.80" stroke="#5a5a5a" stroke-width="0.7"/>
<ellipse cx="830.04" cy="359.42" rx="2.24" ry="2.48" fill="none" stroke="#262626" stroke-width="0.73"/>
<line x1="830.04" y1="356.36" x2="830.04" y2="362.39" stroke="#262626" stroke-width="0.7291666666666666"/>
<text x="832.97" y="361.90" font-size="7.0" fill="#262626">d</text>
<line x1="769.20" y1="351.40" x2="769.20" y2="378.60" stroke="#5a5a5a" stroke-width="0.9"/>
<line x1="769.20" y1="374.10" x2="920.90" y2="374.10" stroke="#5a5a5a" stroke-width="0.9"/>
<polygon points="769.20,374.10 777.00,372.55 777.00,375.65" fill="#1a1a1a"/>
<polygon points="810.90,374.10 803.10,375.65 803.10,372.55" fill="#1a1a1a"/>
<polygon points="810.90,374.10 818.70,372.55 818.70,375.65" fill="#1a1a1a"/>
<polygon points="920.90,374.10 913.10,375.65 913.10,372.55" fill="#1a1a1a"/>
<text x="789.20" y="373.10" font-size="9.5" text-anchor="middle" fill="#262626" font-weight="normal" >E</text>
<text x="866.00" y="373.10" font-size="9.8" text-anchor="middle" fill="#262626" font-weight="normal" >P</text>
<line x1="1030.70" y1="350.00" x2="1030.70" y2="373.10" stroke="#5a5a5a" stroke-width="0.9"/>
<line x1="1066.10" y1="349.70" x2="1066.10" y2="373.10" stroke="#5a5a5a" stroke-width="0.9"/>
<line x1="1030.70" y1="369.10" x2="1066.10" y2="369.10" stroke="#5a5a5a" stroke-width="0.9"/>
<polygon points="1030.70,369.10 1038.50,367.55 1038.50,370.65" fill="#1a1a1a"/>
<polygon points="1066.10,369.10 1058.30,370.65 1058.30,367.55" fill="#1a1a1a"/>
<text x="1048.40" y="367.90" font-size="9.5" text-anchor="middle" fill="#262626" font-weight="normal" >E</text>
<line x1="851.60" y1="259.30" x2="851.60" y2="307.70" stroke="#5a5a5a" stroke-width="0.9"/>
<line x1="863.90" y1="259.30" x2="863.90" y2="304.00" stroke="#5a5a5a" stroke-width="0.9"/>
<line x1="836.20" y1="264.80" x2="851.60" y2="264.80" stroke="#5a5a5a" stroke-width="0.9"/>
<polygon points="851.60,264.80 843.80,266.35 843.80,263.25" fill="#1a1a1a"/>
<line x1="863.90" y1="264.80" x2="870.00" y2="264.80" stroke="#5a5a5a" stroke-width="0.9"/>
<polygon points="863.90,264.80 871.70,263.25 871.70,266.35" fill="#1a1a1a"/>
<text x="857.80" y="261.50" font-size="9.2" text-anchor="middle" fill="#262626" font-weight="normal" >G</text>
<line x1="584.80" y1="25.30" x2="584.80" y2="51.40" stroke="#5a5a5a" stroke-width="0.9"/>
<line x1="650.20" y1="25.30" x2="650.20" y2="57.40" stroke="#5a5a5a" stroke-width="0.9"/>
<line x1="584.80" y1="29.40" x2="650.20" y2="29.40" stroke="#5a5a5a" stroke-width="0.9"/>
<polygon points="584.80,29.40 592.60,27.85 592.60,30.95" fill="#1a1a1a"/>
<polygon points="650.20,29.40 642.40,30.95 642.40,27.85" fill="#1a1a1a"/>
<text x="617.50" y="28.70" font-size="10" text-anchor="middle" fill="#262626" font-weight="normal" >W</text>
<line x1="591.20" y1="35.30" x2="591.20" y2="48.00" stroke="#5a5a5a" stroke-width="0.9"/>
<line x1="643.50" y1="35.30" x2="643.50" y2="52.40" stroke="#5a5a5a" stroke-width="0.9"/>
<line x1="571.70" y1="39.30" x2="643.50" y2="39.30" stroke="#5a5a5a" stroke-width="0.9"/>
<polygon points="584.80,39.30 577.00,40.85 577.00,37.75" fill="#1a1a1a"/>
<polygon points="591.20,39.30 599.00,37.75 599.00,40.85" fill="#1a1a1a"/>
<polygon points="643.50,39.30 635.70,40.85 635.70,37.75" fill="#1a1a1a"/>
<text x="617.50" y="38.70" font-size="10" text-anchor="middle" fill="#262626" font-weight="normal" >B</text>
<text x="588.30" y="37.80" font-size="6.2" text-anchor="middle" fill="#262626">B<tspan font-size="4.2">1</tspan></text>
<text x="528.40" y="33.80" font-size="10" text-anchor="start" fill="#262626" font-weight="normal" >2-Mxl</text>
<line x1="528.40" y1="36.20" x2="560.30" y2="36.20" stroke="#5a5a5a" stroke-width="0.8"/>
<line x1="560.30" y1="36.20" x2="591.00" y2="50.80" stroke="#5a5a5a" stroke-width="0.8"/>
<polygon points="591.00,50.80 585.02,49.40 586.14,47.05" fill="#1a1a1a"/>
<text x="660.00" y="38.20" font-size="9.6" text-anchor="start" fill="#262626" font-weight="normal" >Gn</text>
<line x1="660.00" y1="39.40" x2="673.70" y2="39.40" stroke="#5a5a5a" stroke-width="0.8"/>
<line x1="660.00" y1="39.40" x2="619.80" y2="57.30" stroke="#5a5a5a" stroke-width="0.8"/>
<polygon points="619.80,57.30 625.17,53.38 626.31,55.93" fill="#1a1a1a"/>
<line x1="640.00" y1="52.20" x2="668.60" y2="52.20" stroke="#5a5a5a" stroke-width="0.9"/>
<line x1="630.20" y1="58.40" x2="668.60" y2="58.40" stroke="#5a5a5a" stroke-width="0.9"/>
<line x1="664.60" y1="40.20" x2="664.60" y2="71.40" stroke="#5a5a5a" stroke-width="0.9"/>
<polygon points="664.60,52.20 663.05,44.40 666.15,44.40" fill="#1a1a1a"/>
<line x1="664.60" y1="58.40" x2="664.60" y2="71.40" stroke="#5a5a5a" stroke-width="0.9"/>
<polygon points="664.60,58.40 666.15,66.20 663.05,66.20" fill="#1a1a1a"/>
<text x="0" y="0" font-size="8.4" fill="#262626" transform="translate(676.00,55.30) rotate(-90)" text-anchor="middle">H<tspan font-size="5.4">2</tspan></text>
<line x1="560.40" y1="52.40" x2="584.80" y2="52.40" stroke="#5a5a5a" stroke-width="0.9"/>
<line x1="560.40" y1="85.30" x2="601.60" y2="85.30" stroke="#5a5a5a" stroke-width="0.9"/>
<line x1="565.40" y1="52.40" x2="565.40" y2="85.30" stroke="#5a5a5a" stroke-width="0.9"/>
<polygon points="565.40,52.40 566.95,60.20 563.85,60.20" fill="#1a1a1a"/>
<polygon points="565.40,85.30 563.85,77.50 566.95,77.50" fill="#1a1a1a"/>
<text x="563.20" y="72.25" font-size="9.4" text-anchor="end" fill="#262626" font-weight="normal" >H</text>
<line x1="565.40" y1="77.30" x2="584.80" y2="77.30" stroke="#5a5a5a" stroke-width="0.9"/>
<line x1="577.10" y1="77.30" x2="577.10" y2="85.30" stroke="#5a5a5a" stroke-width="0.9"/>
<text x="571.85" y="84.00" font-size="7.8" text-anchor="middle" fill="#262626">H<tspan font-size="5">1</tspan></text>
<line x1="584.80" y1="77.30" x2="584.80" y2="102.70" stroke="#5a5a5a" stroke-width="0.9"/>
<line x1="601.60" y1="85.30" x2="601.60" y2="102.70" stroke="#5a5a5a" stroke-width="0.9"/>
<line x1="633.30" y1="85.30" x2="633.30" y2="102.70" stroke="#5a5a5a" stroke-width="0.9"/>
<line x1="572.00" y1="99.70" x2="633.30" y2="99.70" stroke="#5a5a5a" stroke-width="0.9"/>
<polygon points="584.80,99.70 577.00,101.25 577.00,98.15" fill="#1a1a1a"/>
<polygon points="601.60,99.70 609.40,98.15 609.40,101.25" fill="#1a1a1a"/>
<polygon points="633.30,99.70 625.50,101.25 625.50,98.15" fill="#1a1a1a"/>
<text x="593.20" y="97.90" font-size="9.2" text-anchor="middle" fill="#262626" font-weight="normal" >N</text>
<text x="617.45" y="97.90" font-size="9.4" text-anchor="middle" fill="#262626">W<tspan font-size="5.6">R</tspan></text>
<line x1="585.20" y1="145.80" x2="585.20" y2="172.20" stroke="#5a5a5a" stroke-width="0.9"/>
<line x1="651.40" y1="145.80" x2="651.40" y2="178.20" stroke="#5a5a5a" stroke-width="0.9"/>
<line x1="585.20" y1="150.30" x2="651.40" y2="150.30" stroke="#5a5a5a" stroke-width="0.9"/>
<polygon points="585.20,150.30 593.00,148.75 593.00,151.85" fill="#1a1a1a"/>
<polygon points="651.40,150.30 643.60,151.85 643.60,148.75" fill="#1a1a1a"/>
<text x="618.30" y="149.60" font-size="10" text-anchor="middle" fill="#262626" font-weight="normal" >W</text>
<line x1="591.40" y1="156.60" x2="591.40" y2="167.50" stroke="#5a5a5a" stroke-width="0.9"/>
<line x1="643.60" y1="156.60" x2="643.60" y2="173.20" stroke="#5a5a5a" stroke-width="0.9"/>
<line x1="572.70" y1="160.60" x2="643.60" y2="160.60" stroke="#5a5a5a" stroke-width="0.9"/>
<polygon points="585.20,160.60 577.40,162.15 577.40,159.05" fill="#1a1a1a"/>
<polygon points="591.40,160.60 599.20,159.05 599.20,162.15" fill="#1a1a1a"/>
<polygon points="643.60,160.60 635.80,162.15 635.80,159.05" fill="#1a1a1a"/>
<text x="618.30" y="160.00" font-size="10" text-anchor="middle" fill="#262626" font-weight="normal" >B</text>
<text x="588.60" y="159.10" font-size="6.2" text-anchor="middle" fill="#262626">B<tspan font-size="4.2">1</tspan></text>
<text x="535.30" y="157.60" font-size="10" text-anchor="start" fill="#262626" font-weight="normal" >4-Mxl</text>
<line x1="535.30" y1="160.00" x2="561.90" y2="160.00" stroke="#5a5a5a" stroke-width="0.8"/>
<line x1="561.90" y1="160.00" x2="590.00" y2="172.40" stroke="#5a5a5a" stroke-width="0.8"/>
<polygon points="590.00,172.40 583.99,171.17 585.04,168.79" fill="#1a1a1a"/>
<text x="656.10" y="159.20" font-size="9.2" text-anchor="start" fill="#262626" font-weight="normal" >Gn</text>
<line x1="660.70" y1="160.40" x2="667.20" y2="160.40" stroke="#5a5a5a" stroke-width="0.8"/>
<line x1="660.70" y1="160.40" x2="619.50" y2="178.30" stroke="#5a5a5a" stroke-width="0.8"/>
<polygon points="619.50,178.30 624.90,174.43 626.02,176.99" fill="#1a1a1a"/>
<line x1="640.00" y1="173.20" x2="669.80" y2="173.20" stroke="#5a5a5a" stroke-width="0.9"/>
<line x1="630.50" y1="179.30" x2="669.80" y2="179.30" stroke="#5a5a5a" stroke-width="0.9"/>
<line x1="665.80" y1="161.20" x2="665.80" y2="192.30" stroke="#5a5a5a" stroke-width="0.9"/>
<polygon points="665.80,173.20 664.25,165.40 667.35,165.40" fill="#1a1a1a"/>
<line x1="665.80" y1="179.30" x2="665.80" y2="192.30" stroke="#5a5a5a" stroke-width="0.9"/>
<polygon points="665.80,179.30 667.35,187.10 664.25,187.10" fill="#1a1a1a"/>
<text x="0" y="0" font-size="8.4" fill="#262626" transform="translate(677.20,176.25) rotate(-90)" text-anchor="middle">H<tspan font-size="5.4">2</tspan></text>
<line x1="561.00" y1="173.20" x2="585.20" y2="173.20" stroke="#5a5a5a" stroke-width="0.9"/>
<line x1="561.00" y1="206.00" x2="602.30" y2="206.00" stroke="#5a5a5a" stroke-width="0.9"/>
<line x1="566.00" y1="173.20" x2="566.00" y2="206.00" stroke="#5a5a5a" stroke-width="0.9"/>
<polygon points="566.00,173.20 567.55,181.00 564.45,181.00" fill="#1a1a1a"/>
<polygon points="566.00,206.00 564.45,198.20 567.55,198.20" fill="#1a1a1a"/>
<text x="563.80" y="193.00" font-size="9.4" text-anchor="end" fill="#262626" font-weight="normal" >H</text>
<line x1="566.00" y1="197.30" x2="585.20" y2="197.30" stroke="#5a5a5a" stroke-width="0.9"/>
<line x1="577.10" y1="197.30" x2="577.10" y2="206.00" stroke="#5a5a5a" stroke-width="0.9"/>
<text x="572.15" y="204.70" font-size="7.8" text-anchor="middle" fill="#262626">H<tspan font-size="5">1</tspan></text>
<line x1="585.20" y1="197.30" x2="585.20" y2="223.30" stroke="#5a5a5a" stroke-width="0.9"/>
<line x1="602.30" y1="206.00" x2="602.30" y2="223.30" stroke="#5a5a5a" stroke-width="0.9"/>
<line x1="633.90" y1="206.00" x2="633.90" y2="223.30" stroke="#5a5a5a" stroke-width="0.9"/>
<line x1="572.00" y1="220.30" x2="633.90" y2="220.30" stroke="#5a5a5a" stroke-width="0.9"/>
<polygon points="585.20,220.30 577.40,221.85 577.40,218.75" fill="#1a1a1a"/>
<polygon points="602.30,220.30 610.10,218.75 610.10,221.85" fill="#1a1a1a"/>
<polygon points="633.90,220.30 626.10,221.85 626.10,218.75" fill="#1a1a1a"/>
<text x="593.75" y="218.50" font-size="9.2" text-anchor="middle" fill="#262626" font-weight="normal" >N</text>
<text x="618.10" y="218.50" font-size="9.4" text-anchor="middle" fill="#262626">W<tspan font-size="5.6">R</tspan></text>
<line x1="568.50" y1="269.20" x2="568.50" y2="302.00" stroke="#5a5a5a" stroke-width="0.9"/>
<line x1="656.60" y1="269.20" x2="656.60" y2="308.00" stroke="#5a5a5a" stroke-width="0.9"/>
<line x1="568.50" y1="274.60" x2="656.60" y2="274.60" stroke="#5a5a5a" stroke-width="0.9"/>
<polygon points="568.50,274.60 576.30,273.05 576.30,276.15" fill="#1a1a1a"/>
<polygon points="656.60,274.60 648.80,276.15 648.80,273.05" fill="#1a1a1a"/>
<text x="612.55" y="273.90" font-size="10" text-anchor="middle" fill="#262626" font-weight="normal" >W</text>
<line x1="577.60" y1="284.90" x2="577.60" y2="302.00" stroke="#5a5a5a" stroke-width="0.9"/>
<line x1="645.90" y1="284.90" x2="645.90" y2="303.00" stroke="#5a5a5a" stroke-width="0.9"/>
<line x1="552.30" y1="288.90" x2="645.90" y2="288.90" stroke="#5a5a5a" stroke-width="0.9"/>
<polygon points="568.50,288.90 560.70,290.45 560.70,287.35" fill="#1a1a1a"/>
<polygon points="577.60,288.90 585.40,287.35 585.40,290.45" fill="#1a1a1a"/>
<polygon points="645.90,288.90 638.10,290.45 638.10,287.35" fill="#1a1a1a"/>
<text x="612.55" y="288.30" font-size="10" text-anchor="middle" fill="#262626" font-weight="normal" >B</text>
<text x="573.35" y="287.40" font-size="6.2" text-anchor="middle" fill="#262626">B<tspan font-size="4.2">1</tspan></text>
<text x="517.40" y="285.10" font-size="10" text-anchor="start" fill="#262626" font-weight="normal" >4-Mxl</text>
<line x1="517.40" y1="287.50" x2="543.80" y2="287.50" stroke="#5a5a5a" stroke-width="0.8"/>
<line x1="543.80" y1="287.50" x2="577.60" y2="302.30" stroke="#5a5a5a" stroke-width="0.8"/>
<polygon points="577.60,302.30 571.58,301.08 572.63,298.70" fill="#1a1a1a"/>
<text x="662.20" y="284.00" font-size="9.0" text-anchor="start" fill="#262626" font-weight="normal" >Gn</text>
<line x1="665.50" y1="285.20" x2="672.50" y2="285.20" stroke="#5a5a5a" stroke-width="0.8"/>
<line x1="665.50" y1="285.20" x2="615.00" y2="310.50" stroke="#5a5a5a" stroke-width="0.8"/>
<polygon points="615.00,310.50 620.18,306.34 621.44,308.84" fill="#1a1a1a"/>
<line x1="645.00" y1="303.00" x2="675.40" y2="303.00" stroke="#5a5a5a" stroke-width="0.9"/>
<line x1="640.00" y1="311.00" x2="675.40" y2="311.00" stroke="#5a5a5a" stroke-width="0.9"/>
<line x1="671.40" y1="291.00" x2="671.40" y2="324.00" stroke="#5a5a5a" stroke-width="0.9"/>
<polygon points="671.40,303.00 669.85,295.20 672.95,295.20" fill="#1a1a1a"/>
<line x1="671.40" y1="311.00" x2="671.40" y2="324.00" stroke="#5a5a5a" stroke-width="0.9"/>
<polygon points="671.40,311.00 672.95,318.80 669.85,318.80" fill="#1a1a1a"/>
<text x="0" y="0" font-size="8.4" fill="#262626" transform="translate(682.80,307.00) rotate(-90)" text-anchor="middle">H<tspan font-size="5.4">2</tspan></text>
<line x1="542.00" y1="303.00" x2="568.50" y2="303.00" stroke="#5a5a5a" stroke-width="0.9"/>
<line x1="542.00" y1="347.20" x2="591.30" y2="347.20" stroke="#5a5a5a" stroke-width="0.9"/>
<line x1="547.00" y1="303.00" x2="547.00" y2="347.20" stroke="#5a5a5a" stroke-width="0.9"/>
<polygon points="547.00,303.00 548.55,310.80 545.45,310.80" fill="#1a1a1a"/>
<polygon points="547.00,347.20 545.45,339.40 548.55,339.40" fill="#1a1a1a"/>
<text x="544.80" y="327.10" font-size="9.4" text-anchor="end" fill="#262626" font-weight="normal" >H</text>
<line x1="547.00" y1="336.30" x2="568.50" y2="336.30" stroke="#5a5a5a" stroke-width="0.9"/>
<line x1="561.00" y1="336.30" x2="561.00" y2="347.20" stroke="#5a5a5a" stroke-width="0.9"/>
<text x="554.60" y="345.90" font-size="7.8" text-anchor="middle" fill="#262626">H<tspan font-size="5">1</tspan></text>
<line x1="568.50" y1="336.30" x2="568.50" y2="368.20" stroke="#5a5a5a" stroke-width="0.9"/>
<line x1="591.30" y1="347.20" x2="591.30" y2="368.20" stroke="#5a5a5a" stroke-width="0.9"/>
<line x1="633.60" y1="347.20" x2="633.60" y2="368.20" stroke="#5a5a5a" stroke-width="0.9"/>
<line x1="552.60" y1="365.20" x2="633.60" y2="365.20" stroke="#5a5a5a" stroke-width="0.9"/>
<polygon points="568.50,365.20 560.70,366.75 560.70,363.65" fill="#1a1a1a"/>
<polygon points="591.30,365.20 599.10,363.65 599.10,366.75" fill="#1a1a1a"/>
<polygon points="633.60,365.20 625.80,366.75 625.80,363.65" fill="#1a1a1a"/>
<text x="579.90" y="363.40" font-size="9.2" text-anchor="middle" fill="#262626" font-weight="normal" >N</text>
<text x="612.45" y="363.40" font-size="9.4" text-anchor="middle" fill="#262626">W<tspan font-size="5.6">R</tspan></text>
<text x="728.60" y="405.80" font-size="8.9" fill="#262626">M<tspan font-size="5.6">R</tspan></text>
<path d="M717.24,411.70 Q734.25,404.30 751.26,411.70" fill="none" stroke="#555" stroke-width="0.8" />
<path d="M720.05,414.08 Q734.25,407.02 748.45,414.08" fill="none" stroke="#555" stroke-width="0.8" />
<polygon points="715.20,415.70 716.82,410.69 720.98,414.85" fill="#fff" stroke="#555" stroke-width="0.8"/>
<polygon points="753.30,415.70 751.68,410.69 747.52,414.85" fill="#fff" stroke="#555" stroke-width="0.8"/>
<path d="M717.7339999999999,431.2 L755.066,431.2 Q756.408,431.2 756.408,432.542 L756.408,445.108 Q756.408,446.45 755.066,446.45 L747.624,446.45 L747.624,440.716 M725.1759999999999,440.716 L725.1759999999999,446.45 L717.7339999999999,446.45 Q716.3919999999999,446.45 716.3919999999999,445.108 L716.3919999999999,432.542 Q716.3919999999999,431.2 717.7339999999999,431.2 Z" fill="none" stroke="#3c3c3c" stroke-width="0.95" />
<line x1="721.45" y1="431.81" x2="751.35" y2="431.81" stroke="#777" stroke-width="0.7"/>
<path d="M755.554,434.555 L755.554,444.376 Q755.554,445.71799999999996 754.212,445.71799999999996 L747.929,445.71799999999996 M724.871,445.71799999999996 L718.588,445.71799999999996 Q717.246,445.71799999999996 717.246,444.376 L717.246,434.555" fill="none" stroke="#888" stroke-width="0.6" />
<path d="M717.246,434.555 Q717.246,432.176 719.3199999999999,432.176" fill="none" stroke="#555" stroke-width="0.7" />
<path d="M755.554,434.555 Q755.554,432.176 753.48,432.176" fill="none" stroke="#555" stroke-width="0.7" />
<path d="M726.823,438.39799999999997 L726.823,449.74399999999997 Q726.823,451.269 728.348,451.269 L744.452,451.269 Q745.977,451.269 745.977,449.74399999999997 L745.977,438.39799999999997 Z" fill="none" stroke="#3c3c3c" stroke-width="0.95" />
<rect x="725.18" y="441.26" width="1.65" height="5.18" fill="#a8a8a8"/>
<polyline points="725.18,440.11 727.37,441.20 725.18,442.55" fill="none" stroke="#444" stroke-width="0.7"/>
<rect x="745.98" y="441.26" width="1.65" height="5.18" fill="#a8a8a8"/>
<polyline points="747.62,440.11 745.43,441.20 747.62,442.55" fill="none" stroke="#444" stroke-width="0.7"/>
<circle cx="724.32" cy="437.06" r="3.11" fill="none" stroke="#222" stroke-width="0.9"/>
<line x1="722.61" y1="435.34" x2="726.03" y2="438.77" stroke="#666" stroke-width="0.6"/>
<line x1="722.61" y1="438.77" x2="726.03" y2="435.34" stroke="#666" stroke-width="0.6"/>
<path d="M719.14,431.20 L719.14,439.07 L720.11,440.23 L721.09,439.07 L721.09,431.20" fill="#fff" stroke="#444" stroke-width="0.75"/>
<line x1="720.11" y1="431.50" x2="720.11" y2="438.82" stroke="#888" stroke-width="0.5"/>
<circle cx="748.48" cy="437.06" r="3.11" fill="none" stroke="#222" stroke-width="0.9"/>
<line x1="746.77" y1="435.34" x2="750.19" y2="438.77" stroke="#666" stroke-width="0.6"/>
<line x1="746.77" y1="438.77" x2="750.19" y2="435.34" stroke="#666" stroke-width="0.6"/>
<path d="M751.71,431.20 L751.71,439.07 L752.69,440.23 L753.66,439.07 L753.66,431.20" fill="#fff" stroke="#444" stroke-width="0.75"/>
<line x1="752.69" y1="431.50" x2="752.69" y2="438.82" stroke="#888" stroke-width="0.5"/>
<rect x="732.56" y="439.01" width="7.69" height="5.55" rx="0" fill="none" stroke="#555" stroke-width="0.8"/>
<line x1="734.20" y1="444.56" x2="734.20" y2="451.27" stroke="#555" stroke-width="0.75" stroke-dasharray="1.6,0.8"/>
<line x1="738.60" y1="444.56" x2="738.60" y2="451.27" stroke="#555" stroke-width="0.75" stroke-dasharray="1.6,0.8"/>
<line x1="736.40" y1="429.68" x2="736.40" y2="453.46" stroke="#555" stroke-width="0.6"/>
<polygon points="739.21,434.74 737.80,437.17 735.00,437.17 733.59,434.74 735.00,432.31 737.80,432.31" fill="none" stroke="#444" stroke-width="0.8"/>
<circle cx="736.40" cy="434.74" r="0.79" fill="none" stroke="#444" stroke-width="0.7"/>
<line x1="730.91" y1="434.74" x2="741.89" y2="434.74" stroke="#666" stroke-width="0.6"/>
<text x="838.20" y="403.60" font-size="8.9" fill="#262626">M<tspan font-size="5.6">P</tspan></text>
<path d="M824.50,409.60 Q845.00,400.40 865.50,409.60" fill="none" stroke="#555" stroke-width="0.8" />
<path d="M827.80,412.40 Q845.00,403.60 862.20,412.40" fill="none" stroke="#555" stroke-width="0.8" />
<polygon points="822.10,414.30 824.00,408.40 828.90,413.30" fill="#fff" stroke="#555" stroke-width="0.8"/>
<polygon points="867.90,414.30 866.00,408.40 861.10,413.30" fill="#fff" stroke="#555" stroke-width="0.8"/>
<rect x="781.10" y="433.30" width="131.40" height="12.50" rx="0" fill="none" stroke="#444" stroke-width="0.9"/>
<line x1="781.10" y1="435.30" x2="823.60" y2="435.30" stroke="#555" stroke-width="0.7"/>
<line x1="873.40" y1="435.30" x2="912.50" y2="435.30" stroke="#555" stroke-width="0.7"/>
<line x1="781.10" y1="436.60" x2="823.60" y2="436.60" stroke="#555" stroke-width="0.7"/>
<line x1="873.40" y1="436.60" x2="912.50" y2="436.60" stroke="#555" stroke-width="0.7"/>
<line x1="781.10" y1="438.40" x2="823.60" y2="438.40" stroke="#555" stroke-width="0.7"/>
<line x1="873.40" y1="438.40" x2="912.50" y2="438.40" stroke="#555" stroke-width="0.7"/>
<line x1="781.10" y1="439.60" x2="823.60" y2="439.60" stroke="#555" stroke-width="0.7"/>
<line x1="873.40" y1="439.60" x2="912.50" y2="439.60" stroke="#555" stroke-width="0.7"/>
<line x1="781.10" y1="444.70" x2="912.50" y2="444.70" stroke="#777" stroke-width="0.6"/>
<rect x="795.30" y="433.30" width="8" height="5.7" rx="1.5" fill="#fff" stroke="#444" stroke-width="0.8"/>
<rect x="797.10" y="439.00" width="4.4" height="6.80" fill="#fff" stroke="#666" stroke-width="0.6"/>
<line x1="799.30" y1="431.00" x2="799.30" y2="448.90" stroke="#444" stroke-width="0.6"/>
<line x1="796.30" y1="445.00" x2="802.30" y2="445.00" stroke="#333" stroke-width="1.2"/>
<rect x="892.60" y="433.30" width="8" height="5.7" rx="1.5" fill="#fff" stroke="#444" stroke-width="0.8"/>
<rect x="894.40" y="439.00" width="4.4" height="6.80" fill="#fff" stroke="#666" stroke-width="0.6"/>
<line x1="896.60" y1="431.00" x2="896.60" y2="448.90" stroke="#444" stroke-width="0.6"/>
<line x1="893.60" y1="445.00" x2="899.60" y2="445.00" stroke="#333" stroke-width="1.2"/>
<rect x="823.6" y="426.3" width="49.8" height="14.6" rx="1.2" fill="#fff" stroke="#444" stroke-width="0.9"/>
<line x1="832.30" y1="426.30" x2="832.30" y2="440.90" stroke="#444" stroke-width="0.8"/>
<line x1="864.30" y1="426.30" x2="864.30" y2="440.90" stroke="#444" stroke-width="0.8"/>
<line x1="825.00" y1="426.30" x2="825.00" y2="440.90" stroke="#888" stroke-width="0.5"/>
<line x1="871.50" y1="426.30" x2="871.50" y2="440.90" stroke="#888" stroke-width="0.5"/>
<path d="M823.6,427.2 L820.6,427.2 Q817.6,427.2 817.6,430.2 Q817.6,433.3 820.6,433.3 L823.6,433.3" fill="#fff" stroke="#333" stroke-width="0.9"/>
<line x1="816.00" y1="430.30" x2="827.00" y2="430.30" stroke="#666" stroke-width="0.5"/>
<path d="M834.6,426.3 L834.6,433 L836.1,435.3 L837.6,433 L837.6,426.3" fill="#999" stroke="#333" stroke-width="0.75"/>
<line x1="836.10" y1="425.00" x2="836.10" y2="426.30" stroke="#444" stroke-width="0.6"/>
<path d="M858.8,426.3 L858.8,433 L860.3,435.3 L861.8,433 L861.8,426.3" fill="#999" stroke="#333" stroke-width="0.75"/>
<line x1="860.30" y1="425.00" x2="860.30" y2="426.30" stroke="#444" stroke-width="0.6"/>
<rect x="845.5" y="440.9" width="5" height="4.9" fill="#fff" stroke="#444" stroke-width="0.7"/>
<line x1="848.00" y1="438.00" x2="848.00" y2="448.50" stroke="#444" stroke-width="0.6"/>
<text x="987.50" y="396.80" font-size="8.9" fill="#262626">M<tspan font-size="5.6">Y</tspan></text>
<path d="M976.26,402.17 Q994.05,396.43 1011.84,402.17" fill="none" stroke="#555" stroke-width="0.8" />
<path d="M979.23,404.69 Q994.05,399.31 1008.87,404.69" fill="none" stroke="#555" stroke-width="0.8" />
<polygon points="974.10,406.40 975.81,401.09 980.22,405.50" fill="#fff" stroke="#555" stroke-width="0.8"/>
<polygon points="1014.00,406.40 1012.29,401.09 1007.88,405.50" fill="#fff" stroke="#555" stroke-width="0.8"/>
<path d="M933.8,427.5 L972.6,427.5 M972.6,446.0 L934.1,446.0 " stroke="#444" stroke-width="0.9" fill="none"/>
<path d="M1022.8,427.5 L1061.6,427.5 M1022.8,446.0 L1061.2,446.0" stroke="#444" stroke-width="0.9" fill="none"/>
<path d="M933.8,427.5 C936.5,429.5 937.8,431.5 937.1,433.2 C936.4,435.2 933.8,436.6 934.4,438.3 C935,440 937.9,441.0 937.6,442.4 C937.2,443.8 935.3,445.0 934.1,446" stroke="#333" stroke-width="0.85" fill="none"/>
<path d="M1061.6,427.5 C1059.5,429.5 1058.2,431.5 1058.5,433.2 C1058.9,435.2 1061.2,436.6 1060.6,438.3 C1060,440 1057.3,441.0 1057.6,442.4 C1057.9,443.8 1059.8,445.0 1061.2,446" stroke="#333" stroke-width="0.85" fill="none"/>
<circle cx="954.30" cy="436.60" r="6.10" fill="none" stroke="#555" stroke-width="0.8"/>
<circle cx="954.30" cy="436.60" r="3.90" fill="none" stroke="#555" stroke-width="0.7"/>
<line x1="947.30" y1="436.60" x2="961.30" y2="436.60" stroke="#777" stroke-width="0.5"/>
<line x1="954.30" y1="429.60" x2="954.30" y2="443.60" stroke="#777" stroke-width="0.5"/>
<circle cx="1040.90" cy="436.60" r="6.10" fill="none" stroke="#555" stroke-width="0.8"/>
<circle cx="1040.90" cy="436.60" r="3.90" fill="none" stroke="#555" stroke-width="0.7"/>
<line x1="1033.90" y1="436.60" x2="1047.90" y2="436.60" stroke="#777" stroke-width="0.5"/>
<line x1="1040.90" y1="429.60" x2="1040.90" y2="443.60" stroke="#777" stroke-width="0.5"/>
<rect x="972.60" y="417.50" width="50.20" height="37.90" rx="0" fill="#fff" stroke="#444" stroke-width="0.9"/>
<line x1="974.50" y1="417.50" x2="974.50" y2="455.40" stroke="#666" stroke-width="0.6"/>
<line x1="1020.90" y1="417.50" x2="1020.90" y2="455.40" stroke="#666" stroke-width="0.6"/>
<rect x="981.20" y="417.50" width="33.00" height="37.90" rx="0" fill="none" stroke="#444" stroke-width="0.9"/>
<circle cx="985.40" cy="421.40" r="1.75" fill="#888" stroke="#222" stroke-width="1.1"/>
<circle cx="985.40" cy="451.80" r="1.75" fill="#888" stroke="#222" stroke-width="1.1"/>
<circle cx="1010.20" cy="421.40" r="1.75" fill="#888" stroke="#222" stroke-width="1.1"/>
<circle cx="1010.20" cy="451.80" r="1.75" fill="#888" stroke="#222" stroke-width="1.1"/>
<line x1="971.60" y1="427.30" x2="971.60" y2="433.50" stroke="#444" stroke-width="1.6"/>
<line x1="971.60" y1="440.00" x2="971.60" y2="446.20" stroke="#444" stroke-width="1.6"/>
<line x1="1023.80" y1="427.30" x2="1023.80" y2="433.50" stroke="#444" stroke-width="1.6"/>
<line x1="1023.80" y1="440.00" x2="1023.80" y2="446.20" stroke="#444" stroke-width="1.6"/>
</svg></body></html>
